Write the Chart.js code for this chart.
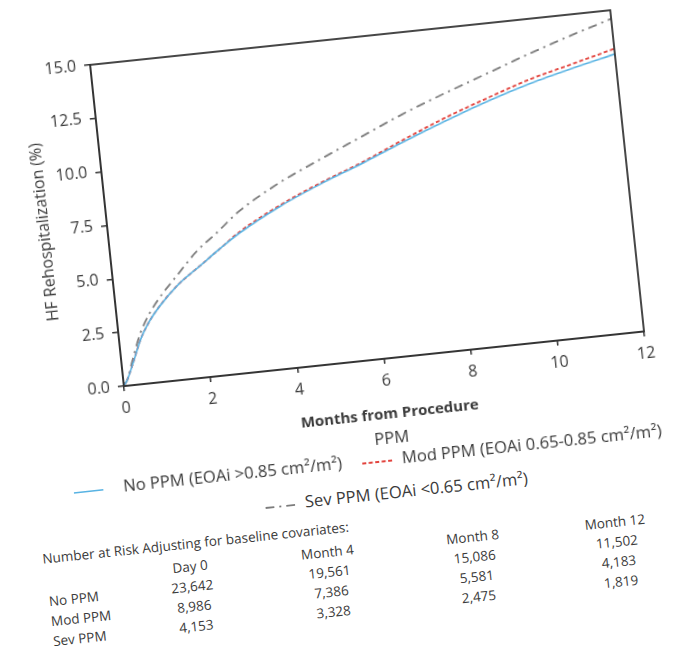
<!DOCTYPE html>
<html>
<head>
<meta charset="utf-8">
<script src="https://cdn.jsdelivr.net/npm/chart.js@4.4.1/dist/chart.umd.min.js"></script>
<style>
  html, body { margin: 0; padding: 0; background: #fff; }
  body { width: 684px; height: 657px; overflow: hidden; position: relative;
         font-family: 'Open Sans', sans-serif; color: #3b3b3b; }
  /* whole figure sits a little tilted on the page */
  #page { position: absolute; left: 0; top: 0; width: 684px; height: 657px;
          transform: rotate(-6deg); transform-origin: 342px 328px; }
  #chartBox { position: absolute; left: 0; top: 0; width: 684px; height: 432px; }
  .abs { position: absolute; white-space: nowrap; line-height: 1; }
  .legTxt { font-size: 16.6px; }
  .risk { font-size: 13.5px; }
  .mid { transform: translate(-50%, -50%); }
  .lft { transform: translate(0, -50%); }
</style>
</head>
<body>
<div id="page">
  <div id="chartBox"><canvas id="km" width="684" height="432"></canvas></div>
  <div id="legend"></div>
  <div id="riskTable"></div>
</div>

<script>
// follow-up grid (months) and cumulative HF rehospitalization (%)
const months = [0, 0.1, 0.25, 0.5, 0.75, 1, 1.5, 2, 2.5, 3, 4, 5, 6, 7, 8, 9, 10, 11, 12];
const noPPM  = [0, 0.3, 0.95, 2.1, 2.9, 3.5, 4.45, 5.15, 5.85, 6.5, 7.55, 8.4, 9.15, 9.95, 10.7, 11.4, 12.0, 12.5, 12.95];
const modPPM = [0, 0.3, 0.95, 2.1, 2.9, 3.5, 4.45, 5.15, 5.85, 6.55, 7.6, 8.45, 9.2, 10.05, 10.85, 11.55, 12.2, 12.7, 13.2];
const sevPPM = [0, 0.3, 1.1, 2.35, 3.2, 3.85, 4.9, 5.9, 6.65, 7.45, 8.6, 9.5, 10.35, 11.2, 11.95, 12.65, 13.35, 14.0, 14.6];

const seriesLabels = [
  'No PPM (EOAi >0.85 cm²/m²)',
  'Mod PPM (EOAi 0.65-0.85 cm²/m²)',
  'Sev PPM (EOAi <0.65 cm²/m²)'
];

const xTicks = [0, 2, 4, 6, 8, 10, 12];
const yTicks = [0, 2.5, 5, 7.5, 10, 12.5, 15];

// number at risk table
const riskTitle  = 'Number at Risk Adjusting for baseline covariates:';
const riskCols   = ['Day 0', 'Month 4', 'Month 8', 'Month 12'];
const riskGroups = ['No PPM', 'Mod PPM', 'Sev PPM'];
const riskNo  = ['23,642', '19,561', '15,086', '11,502'];
const riskMod = ['8,986', '7,386', '5,581', '4,183'];
const riskSev = ['4,153', '3,328', '2,475', '1,819'];

const INK = '#333';
const TXT = '#3b3b3b';
const styles = [
  { color: '#58b3e3', width: 1.6, dash: [] },
  { color: '#e2433d', width: 1.8, dash: [4, 2.5] },
  { color: '#7c7c7c', width: 1.8, dash: [9, 5, 2, 5] }
];

Chart.defaults.font.family = "'Open Sans', sans-serif";
Chart.defaults.color = TXT;

const toPoints = ys => ys.map((y, i) => ({ x: months[i], y }));

// closes the plot frame on the top and right side
const frame = {
  id: 'frame',
  afterDraw(chart) {
    const { ctx, chartArea: a } = chart;
    ctx.save();
    ctx.strokeStyle = INK;
    ctx.lineWidth = 1.8;
    ctx.strokeRect(a.left, a.top, a.right - a.left, a.bottom - a.top);
    ctx.restore();
  }
};

new Chart(document.getElementById('km'), {
  type: 'line',
  data: {
    datasets: [noPPM, modPPM, sevPPM].map((ys, i) => ({
      label: seriesLabels[i],
      data: toPoints(ys),
      borderColor: styles[i].color,
      borderWidth: styles[i].width,
      borderDash: styles[i].dash,
      pointRadius: 0,
      fill: false,
      cubicInterpolationMode: 'monotone'
    }))
  },
  options: {
    responsive: false,
    animation: false,
    layout: { padding: { left: 0, top: 40, right: 42, bottom: 0 } },
    plugins: { legend: { display: false }, tooltip: { enabled: false } },
    scales: {
      x: {
        type: 'linear', min: 0, max: 12,
        afterBuildTicks: s => { s.ticks = xTicks.map(v => ({ value: v })); },
        afterFit: s => { s.height = 69; },
        ticks: { font: { size: 16 }, color: TXT, padding: 8, maxRotation: 0 },
        grid: { drawOnChartArea: false, color: INK, lineWidth: 1.5, tickLength: 5 },
        border: { color: INK, width: 1.8 },
        title: { display: true, text: 'Months from Procedure', color: TXT,
                 font: { size: 15, weight: 'bold' }, padding: { top: 0, bottom: 4 } }
      },
      y: {
        min: 0, max: 15,
        afterBuildTicks: s => { s.ticks = yTicks.map(v => ({ value: v })); },
        afterFit: s => { s.width = 119; },
        ticks: { font: { size: 16 }, color: TXT, padding: 8, callback: v => v.toFixed(1) },
        grid: { drawOnChartArea: false, color: INK, lineWidth: 1.5, tickLength: 6 },
        border: { color: INK, width: 1.8 },
        title: { display: true, text: 'HF Rehospitalization (%)', color: TXT,
                 font: { size: 16 }, padding: { top: 47, bottom: 0 } }
      }
    }
  },
  plugins: [frame]
});

// ---- legend below the axis ----
function sample(st) {
  const dash = st.dash.length ? ` stroke-dasharray="${st.dash.join(' ')}"` : '';
  return `<svg width="30" height="6" style="vertical-align:middle">` +
         `<line x1="0" y1="3" x2="30" y2="3" stroke="${st.color}" stroke-width="${st.width}"${dash}/></svg>`;
}
function place(parent, html, cls, left, top) {
  const el = document.createElement('div');
  el.className = 'abs ' + cls;
  el.style.left = left + 'px';
  el.style.top = top + 'px';
  el.innerHTML = html;
  parent.appendChild(el);
  return el;
}

const legend = document.getElementById('legend');
place(legend, 'PPM', 'legTxt mid', 380, 442);
// line sample x, text x, row y
const legendSlots = [[58, 108, 462], [348, 388, 463], [247, 287, 497]];
legendSlots.forEach(([lx, tx, y], i) => {
  place(legend, sample(styles[i]), 'lft', lx, y);
  place(legend, seriesLabels[i], 'legTxt lft', tx, y);
});

// ---- number at risk ----
const risk = document.getElementById('riskTable');
const colX = [166, 304, 450, 593];
const rowY = [570, 590, 610];
place(risk, riskTitle, 'risk lft', 20, 527);
riskCols.forEach((c, j) => place(risk, c, 'risk mid', colX[j], 550));
[riskNo, riskMod, riskSev].forEach((row, i) => {
  place(risk, riskGroups[i], 'risk lft', 22, rowY[i]);
  row.forEach((v, j) => place(risk, v, 'risk mid', colX[j], rowY[i]));
});
</script>
</body>
</html>
